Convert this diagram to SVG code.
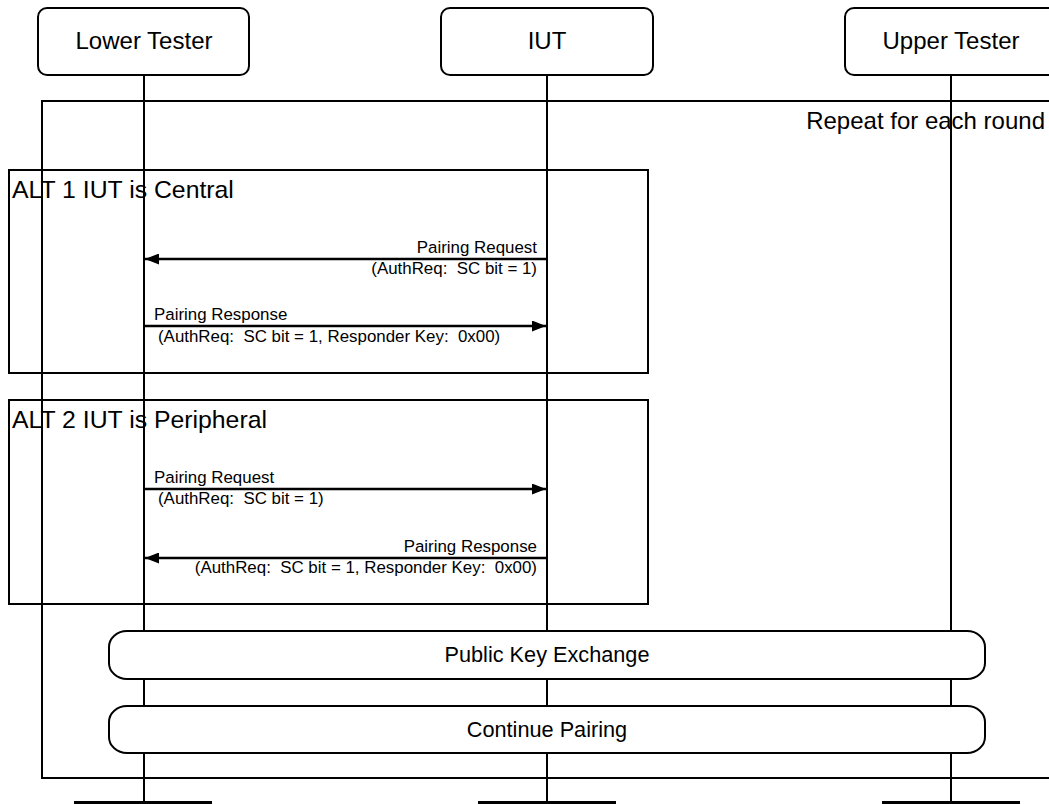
<svg xmlns="http://www.w3.org/2000/svg" width="1049" height="804" viewBox="0 0 1049 804">
<style>
.box{fill:#fff;stroke:#000;stroke-width:2}
.frame{fill:none;stroke:#000;stroke-width:2}
.life{stroke:#000;stroke-width:2}
.msg{stroke:#000;stroke-width:2.4;fill:none}
.t{font-family:"Liberation Sans",Arial,sans-serif;fill:#000}
.h{font-size:24px}
.a{font-size:24.8px}
.m{font-size:16.9px}
.s{font-size:21.7px}
</style>
<defs>
<marker id="ah" viewBox="0 0 14 11" refX="14" refY="5.5" markerWidth="14" markerHeight="11" markerUnits="userSpaceOnUse" orient="auto">
<path d="M0,0 L14,5.5 L0,11 z" fill="#000"/>
</marker>
</defs>
<g id="frames">
<rect class="frame" x="42" y="101" width="1020" height="677"/>
<text class="t h" x="1045" y="129" text-anchor="end">Repeat for each round</text>
<rect class="frame" x="9" y="170" width="639" height="203"/>
<text class="t a" x="12" y="198">ALT 1 IUT is Central</text>
<rect class="frame" x="9" y="400" width="639" height="204"/>
<text class="t a" x="12" y="428">ALT 2 IUT is Peripheral</text>
</g>
<g id="lifelines">
<line class="life" x1="144" y1="75" x2="144" y2="802"/>
<line class="life" x1="547" y1="75" x2="547" y2="802"/>
<line class="life" x1="951" y1="75" x2="951" y2="802"/>
</g>
<g id="lower-tester">
<rect class="box" x="38" y="8" width="211" height="67" rx="9"/>
<text class="t h" x="144" y="49" text-anchor="middle">Lower Tester</text>
<rect x="74" y="801" width="138" height="4" fill="#000"/>
</g>
<g id="iut">
<rect class="box" x="441" y="8" width="212" height="67" rx="9"/>
<text class="t h" x="547" y="49" text-anchor="middle">IUT</text>
<rect x="478" y="801" width="138" height="4" fill="#000"/>
</g>
<g id="upper-tester">
<rect class="box" x="845" y="8" width="212" height="67" rx="9"/>
<text class="t h" x="951" y="49" text-anchor="middle">Upper Tester</text>
<rect x="882" y="801" width="138" height="4" fill="#000"/>
</g>
<g id="connectors">
<line class="msg" x1="547" y1="259" x2="145" y2="259" marker-end="url(#ah)"/>
<line class="msg" x1="144" y1="326" x2="546" y2="326" marker-end="url(#ah)"/>
<line class="msg" x1="144" y1="489" x2="546" y2="489" marker-end="url(#ah)"/>
<line class="msg" x1="547" y1="558" x2="145" y2="558" marker-end="url(#ah)"/>
</g>
<g id="labels">
<text class="t m" x="537" y="253" text-anchor="end">Pairing Request</text>
<text class="t m" x="537" y="274" text-anchor="end" xml:space="preserve">(AuthReq:  SC bit = 1)</text>
<text class="t m" x="154" y="320">Pairing Response</text>
<text class="t m" x="158" y="342" xml:space="preserve">(AuthReq:  SC bit = 1, Responder Key:  0x00)</text>
<text class="t m" x="154" y="483">Pairing Request</text>
<text class="t m" x="158" y="504" xml:space="preserve">(AuthReq:  SC bit = 1)</text>
<text class="t m" x="537" y="552" text-anchor="end">Pairing Response</text>
<text class="t m" x="537" y="573" text-anchor="end" xml:space="preserve">(AuthReq:  SC bit = 1, Responder Key:  0x00)</text>
</g>
<g id="public-key-exchange">
<rect class="box" x="109" y="631" width="876" height="48" rx="18" ry="16"/>
<text class="t s" x="547" y="662" text-anchor="middle">Public Key Exchange</text>
</g>
<g id="continue-pairing">
<rect class="box" x="109" y="706" width="876" height="47" rx="18" ry="16"/>
<text class="t s" x="547" y="737" text-anchor="middle">Continue Pairing</text>
</g>
</svg>
